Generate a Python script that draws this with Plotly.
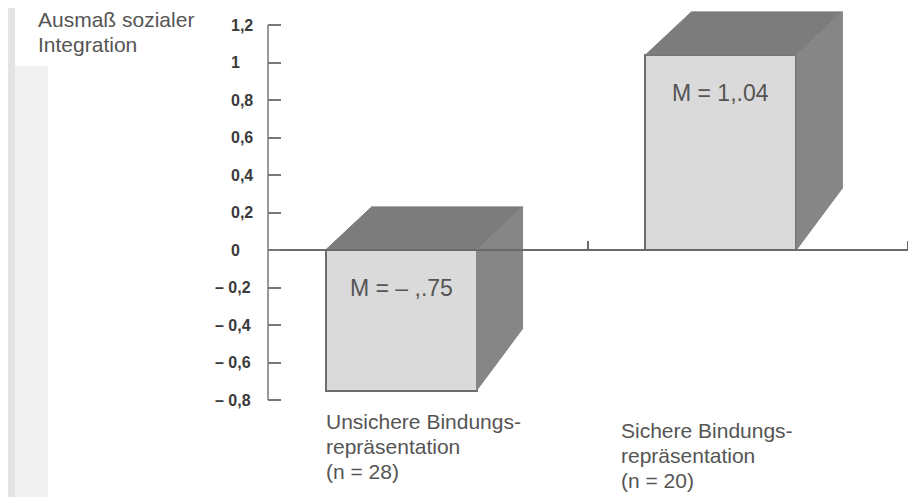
import plotly.graph_objects as go

# ---------------- data ----------------
categories = ["Unsichere Bindungs-<br>repräsentation<br>(n = 28)",
              "Sichere Bindungs-<br>repräsentation<br>(n = 20)"]
cat_pos = [1, 2]
means = [-0.75, 1.04]
mean_labels = ["M = – ,.75", "M = 1,.04"]
y_tick_vals = [1.2, 1.0, 0.8, 0.6, 0.4, 0.2, 0.0, -0.2, -0.4, -0.6, -0.8]
y_tick_text = ["1,2", "1", "0,8", "0,6", "0,4", "0,2", "0",
               "– 0,2", "– 0,4", "– 0,6", "– 0,8"]
x_tick_vals = [1.5, 2.5]
title_text = "Ausmaß sozialer<br>Integration"

# ---------------- layout constants ----------------
PAGE_OFF = 8            # default body margin of the html page
W, H = 916 - PAGE_OFF, 497 - PAGE_OFF
L, R, T, B = 260, 2, 0, 0
XR = [0.5, 2.52]
PX_PER_Y = 187.5
ZERO_PX = 250 - PAGE_OFF
YR = [-(H - T - B - ZERO_PX) / PX_PER_Y, (ZERO_PX - T) / PX_PER_Y]
plot_w = W - L - R

def px_to_paper_x(page_px):
    return (page_px - PAGE_OFF - L) / plot_w

def px_to_paper_y(page_py):
    return 1 - (page_py - PAGE_OFF - T) / (H - T - B)

LINE_STEP = 25 / PX_PER_Y   # line spacing of multi-line labels, in y units

BAR_OFFSET = -0.32
BAR_WIDTH = 0.472
DEPTH_X = 0.144
DEPTH_Y_TOP = 0.23
DEPTH_Y_BOT = 0.33
LABEL_DX = [-0.325, -0.402]
LABEL_Y0 = [-0.912, -0.96]

FONT = "Liberation Sans, Arial, Helvetica, sans-serif"
EDGE = "#6c6c6c"
FRONT = "#dadada"
TOP = "#7c7c7c"
SIDE = "#868686"
TEXT = "#555555"

fig = go.Figure()

# 3D faces (top and side) computed from the data values
for c, v in zip(cat_pos, means):
    xl = c + BAR_OFFSET
    xr = xl + BAR_WIDTH
    yt = max(v, 0)
    yb = min(v, 0)
    fig.add_trace(go.Scatter(
        x=[xl, xl + DEPTH_X, xr + DEPTH_X, xr, xl],
        y=[yt, yt + DEPTH_Y_TOP, yt + DEPTH_Y_TOP, yt, yt],
        mode="lines", fill="toself", fillcolor=TOP,
        line=dict(color=TOP, width=1), hoverinfo="skip", showlegend=False))
    fig.add_trace(go.Scatter(
        x=[xr, xr + DEPTH_X, xr + DEPTH_X, xr, xr],
        y=[yt, yt + DEPTH_Y_TOP, yb + DEPTH_Y_BOT, yb, yt],
        mode="lines", fill="toself", fillcolor=SIDE,
        line=dict(color=SIDE, width=1), hoverinfo="skip", showlegend=False))

# front faces
fig.add_trace(go.Bar(
    x=cat_pos, y=means, offset=BAR_OFFSET, width=BAR_WIDTH,
    marker=dict(color=FRONT, line=dict(color=EDGE, width=2)),
    hoverinfo="skip", showlegend=False))

annotations = []
# mean labels
for c, v, t in zip(cat_pos, means, mean_labels):
    annotations.append(dict(
        x=c + BAR_OFFSET + BAR_WIDTH / 2, y=max(v, 0) - 0.205,
        xref="x", yref="y", text=t, showarrow=False,
        xanchor="center", yanchor="middle",
        font=dict(family=FONT, size=23, color=TEXT)))

# category labels (left aligned, one annotation per line)
for c, t, dx, y0 in zip(cat_pos, categories, LABEL_DX, LABEL_Y0):
    for i, line in enumerate(t.split("<br>")):
        annotations.append(dict(
            x=c + dx, y=y0 - i * LINE_STEP, xref="x", yref="y",
            text=line, showarrow=False,
            xanchor="left", yanchor="middle", align="left",
            font=dict(family=FONT, size=21, color=TEXT)))

# y tick labels (left aligned as in the original)
for v, t in zip(y_tick_vals, y_tick_text):
    left_px = 213 if v < 0 else 229
    annotations.append(dict(
        x=px_to_paper_x(left_px), y=v, xref="paper", yref="y",
        text="<b>" + t + "</b>", showarrow=False,
        xanchor="left", yanchor="middle",
        font=dict(family=FONT, size=16, color="#3a3a3a")))

# axis title (one annotation per line)
for i, line in enumerate(title_text.split("<br>")):
    annotations.append(dict(
        x=px_to_paper_x(36), y=px_to_paper_y(20 + 25 * i),
        xref="paper", yref="paper",
        text=line, showarrow=False, xanchor="left", yanchor="middle",
        align="left", font=dict(family=FONT, size=21, color=TEXT)))

shapes = [
    # scan edge shading
    dict(type="rect", xref="paper", yref="paper",
         x0=px_to_paper_x(PAGE_OFF), x1=px_to_paper_x(15), y0=0, y1=1,
         fillcolor="#e4e4e4", line=dict(width=0), layer="below"),
    dict(type="rect", xref="paper", yref="paper",
         x0=px_to_paper_x(15), x1=px_to_paper_x(48), y0=0,
         y1=px_to_paper_y(66),
         fillcolor="#f1f1f1", line=dict(width=0), layer="below"),
    # y axis line from -0.8 to 1.2
    dict(type="line", xref="paper", yref="y", x0=0, x1=0,
         y0=min(y_tick_vals), y1=max(y_tick_vals),
         line=dict(color="#777777", width=1.5)),
]

zero_pos = (0 - YR[0]) / (YR[1] - YR[0])

fig.update_layout(
    width=W, height=H,
    margin=dict(l=L, r=R, t=T, b=B, pad=0),
    paper_bgcolor="white", plot_bgcolor="white",
    bargap=0,
    xaxis=dict(range=XR, showgrid=False, zeroline=False,
               showline=True, linecolor="#6a6a6a", linewidth=1.5,
               anchor="free", position=zero_pos,
               tickvals=x_tick_vals, ticks="inside", ticklen=8,
               tickwidth=1.5, tickcolor="#6a6a6a", showticklabels=False),
    yaxis=dict(range=YR, showgrid=False, zeroline=False, showline=False,
               tickvals=y_tick_vals, ticks="inside", ticklen=13,
               tickwidth=1.5, tickcolor="#777777", showticklabels=False),
    annotations=annotations,
    shapes=shapes,
    showlegend=False,
)

fig.write_html("out.html")
